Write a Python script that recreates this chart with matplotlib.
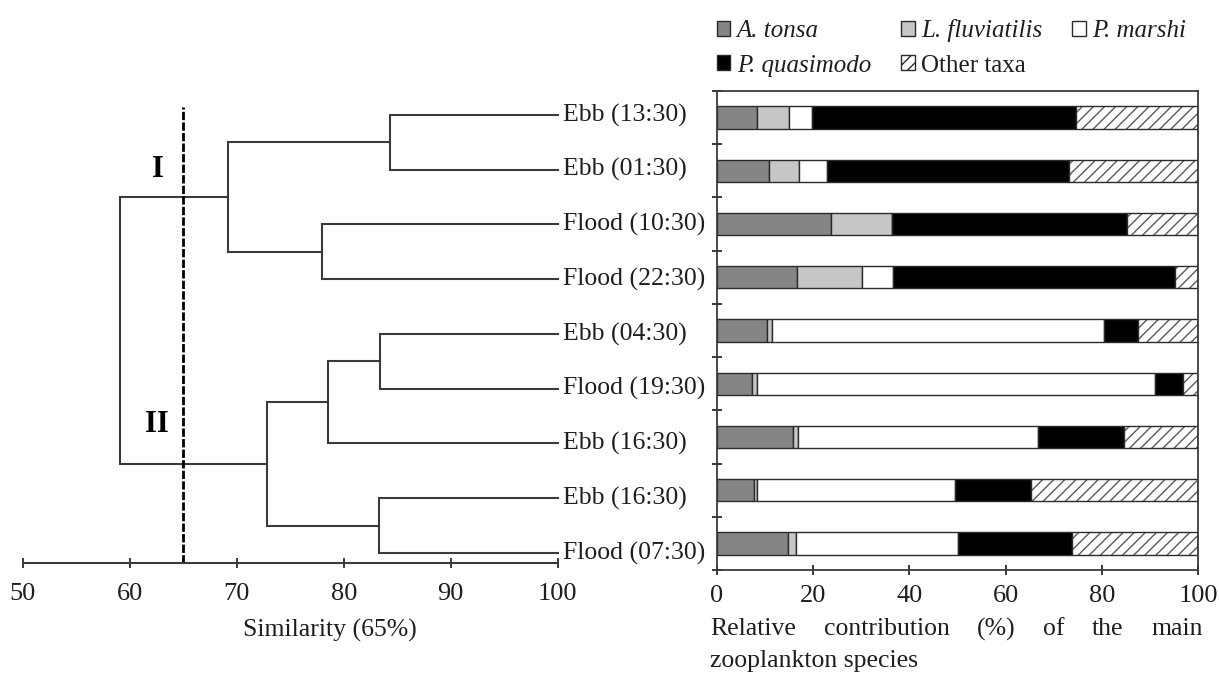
import matplotlib
matplotlib.use('Agg')
import matplotlib.pyplot as plt
import matplotlib.transforms as mtransforms
from matplotlib.patches import Patch
import numpy as np

plt.rcParams['font.family'] = ['Liberation Serif', 'DejaVu Serif']
plt.rcParams['hatch.linewidth'] = 1.0

# samples, top to bottom (dendrogram leaf order = bar order)
samples = ['Ebb (13:30)', 'Ebb (01:30)', 'Flood (10:30)', 'Flood (22:30)', 'Ebb (04:30)',
           'Flood (19:30)', 'Ebb (16:30)', 'Ebb (16:30)', 'Flood (07:30)']

# cluster merges: (left id, right id, similarity %); leaves are 0..8, new nodes get 9, 10, ...
merges = [(0, 1, 84.3), (2, 3, 78.0), (9, 10, 69.2), (4, 5, 83.4), (12, 6, 78.5),
          (7, 8, 83.3), (13, 14, 72.8), (11, 15, 59.1)]
cutoff = 65
group_names = ['I', 'II']

# relative contribution (%) of each taxon per sample
species = ['A. tonsa', 'L. fluviatilis', 'P. marshi', 'P. quasimodo', 'Other taxa']
a_tonsa = [8.3, 10.9, 23.7, 16.6, 10.4, 7.3, 15.8, 7.8, 14.9]
l_fluviatilis = [6.8, 6.1, 12.6, 13.5, 1.0, 1.0, 1.0, 0.6, 1.6]
p_marshi = [4.6, 5.8, 0.0, 6.6, 69.1, 82.8, 50.0, 41.1, 33.7]
p_quasimodo = [54.9, 50.4, 48.8, 58.5, 7.0, 5.7, 17.8, 15.8, 23.5]
other_taxa = [25.4, 26.8, 14.9, 4.8, 12.5, 3.2, 15.4, 34.7, 26.3]

W, H = 1219, 673
fig = plt.figure(figsize=(W / 100, H / 100), dpi=100)
line_col = '#3a3a3a'
edge_col = '#2b2b2b'
text_col = '#1e1e1e'

# ---------------- dendrogram ----------------
ax_d = fig.add_axes([22.7 / W, 1 - 562.7 / H, 535 / W, 456 / H])
pos = {i: float(i) for i in range(len(samples))}
hgt = {i: 100.0 for i in range(len(samples))}
nid = len(samples)
for a, b, s in merges:
    ax_d.plot([hgt[a], s, s, hgt[b]], [pos[a], pos[a], pos[b], pos[b]],
              color=line_col, lw=1.5, clip_on=False, solid_joinstyle='miter')
    pos[nid] = (pos[a] + pos[b]) / 2
    hgt[nid] = s
    nid += 1

ax_d.axvline(cutoff, color='black', lw=2.0, ls=(0, (3, 0.8)))
ax_d.set_xlim(50, 100)
ax_d.set_ylim(8.177, -0.151)
for sp in ['top', 'right', 'left']:
    ax_d.spines[sp].set_visible(False)
ax_d.spines['bottom'].set_color(line_col)
ax_d.spines['bottom'].set_linewidth(1.5)
ax_d.set_yticks([])
ax_d.set_xticks(np.arange(50, 101, 10))
ax_d.tick_params(axis='x', direction='inout', length=7, width=1.4, color=line_col,
                 labelsize=19, pad=11, labelcolor=text_col)
ax_d.text(78.7, 1 - 630 / H, 'Similarity (65%)', transform=mtransforms.blended_transform_factory(
    ax_d.transData, fig.transFigure), ha='center', va='center', fontsize=18.5, color=text_col)

for i, lab in enumerate(samples):
    ax_d.annotate(lab, (100, i), xytext=(3.5, 0), textcoords='offset points',
                  ha='left', va='center', fontsize=18.5, color=text_col, annotation_clip=False)

ax_d.text(62.6, 1.0, group_names[0], ha='center', va='center', fontsize=22, fontweight='bold')
ax_d.text(62.5, 5.65, group_names[1], ha='center', va='center', fontsize=22, fontweight='bold')

# ---------------- stacked bars ----------------
ax_b = fig.add_axes([716.7 / W, 1 - 570 / H, 481.6 / W, 479 / H])
y = np.arange(len(samples))
colors = ['#858585', '#c6c6c6', 'white', 'black', 'white']
series = [a_tonsa, l_fluviatilis, p_marshi, p_quasimodo, other_taxa]
left = np.zeros(len(samples))
bh = 0.42
for k, vals in enumerate(series):
    vals = np.array(vals)
    if species[k] == 'Other taxa':
        ax_b.barh(y, vals, left=left, height=bh, color='white', edgecolor='#5a5a5a',
                  hatch='///', linewidth=0)
        ax_b.barh(y, vals, left=left, height=bh, fill=False, edgecolor=edge_col, linewidth=1.0)
    else:
        ax_b.barh(y, vals, left=left, height=bh, color=colors[k], edgecolor=edge_col, linewidth=1.0)
    left += vals

ax_b.set_xlim(0, 100)
ax_b.set_ylim(8.5, -0.5)
ax_b.set_xticks(np.arange(0, 101, 20))
ax_b.set_yticks(np.arange(-0.5, 8.6, 1))
ax_b.set_yticklabels([])
ax_b.tick_params(axis='both', direction='inout', length=7, width=1.4, color=line_col)
ax_b.tick_params(axis='x', labelsize=19, pad=7.5, labelcolor=text_col)
for sp in ax_b.spines.values():
    sp.set_color(line_col)
    sp.set_linewidth(1.3)

# legend: row-wise order in 3 columns
handles = [Patch(facecolor=colors[k], edgecolor=edge_col, linewidth=1.0,
                 hatch='///' if species[k] == 'Other taxa' else None) for k in range(5)]
order = [0, 3, 1, 4, 2]
leg = ax_b.legend([handles[i] for i in order], [species[i] for i in order], ncol=3,
                  loc='lower left', bbox_to_anchor=(0, 1.03), frameon=False, fontsize=18,
                  handlelength=0.55, handleheight=0.55, handletextpad=0.25,
                  columnspacing=1.2, labelspacing=0.5, borderaxespad=0, borderpad=0)
for t in leg.get_texts():
    t.set_color(text_col)
    if t.get_text() != 'Other taxa':
        t.set_fontstyle('italic')


def justify_words(ax, words, x0, x1, yfig, **kw):
    trans = mtransforms.blended_transform_factory(ax.transData, fig.transFigure)
    texts = [ax.text(x0, yfig, w, transform=trans, va='center', ha='left', **kw) for w in words]
    fig.canvas.draw()
    r = fig.canvas.get_renderer()
    inv = ax.transData.inverted()
    widths = []
    for t in texts:
        bb = t.get_window_extent(r)
        xa = inv.transform((bb.x0, 0))[0]
        xb = inv.transform((bb.x1, 0))[0]
        widths.append(xb - xa)
    gap = (x1 - x0 - sum(widths)) / (len(words) - 1)
    x = x0
    for t, w in zip(texts, widths):
        t.set_x(x)
        x += w + gap


justify_words(ax_b, ['Relative', 'contribution', '(%)', 'of', 'the', 'main'], -1.3, 100.9,
              1 - 629 / H, fontsize=18.5, color=text_col)
trans_b = mtransforms.blended_transform_factory(ax_b.transData, fig.transFigure)
ax_b.text(-1.3, 1 - 661 / H, 'zooplankton species', transform=trans_b, ha='left', va='center',
          fontsize=18.5, color=text_col)

fig.savefig('out.png', dpi=100)
